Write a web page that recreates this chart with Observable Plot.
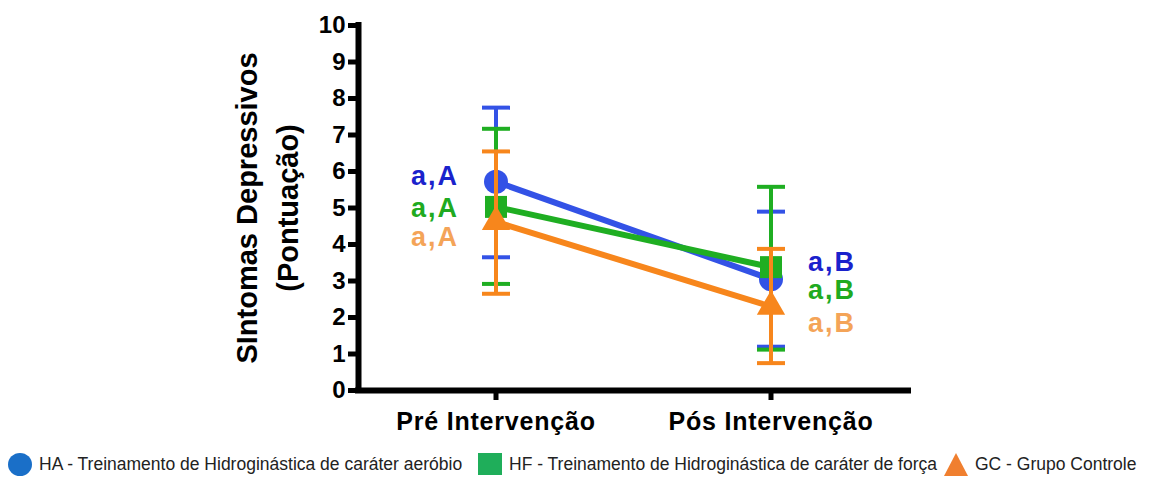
<!DOCTYPE html>
<html>
<head>
<meta charset="utf-8">
<script src="https://cdn.jsdelivr.net/npm/d3@7"></script>
<script src="https://cdn.jsdelivr.net/npm/@observablehq/plot@0.6"></script>
<style>
  html, body { margin: 0; padding: 0; background: #fff; }
  #wrap { position: relative; width: 1155px; height: 479px; overflow: hidden; font-family: "Liberation Sans", Arial, sans-serif; }
  #chart { position: absolute; left: 0; top: 0; }
  .leg { position: absolute; top: 452px; height: 24px; font-size: 17.5px; color: #222; display: flex; align-items: center; white-space: nowrap; }
  .leg svg { margin-right: 7px; flex: none; }
</style>
</head>
<body>
<div id="wrap">
  <div id="chart"></div>
  <div id="legend"></div>
</div>
<script>
const categories = ["Pré Intervenção", "Pós Intervenção"];
const groups = ["HA", "HF", "GC"];
const groupNames = [
  "HA - Treinamento de Hidroginástica de caráter aeróbio",
  "HF - Treinamento de Hidroginástica de caráter de força",
  "GC - Grupo Controle"
];
const haMean = [5.72, 3.05];
const haLow  = [3.65, 1.20];
const haHigh = [7.75, 4.90];
const hfMean = [5.03, 3.38];
const hfLow  = [2.92, 1.12];
const hfHigh = [7.17, 5.58];
const gcMean = [4.62, 2.30];
const gcLow  = [2.65, 0.75];
const gcHigh = [6.55, 3.88];
const letters = [["a,A", "a,B"], ["a,A", "a,B"], ["a,A", "a,B"]];
const letterY = [[5.87, 3.5], [5.0, 2.73], [4.2, 1.83]];
const yTicks = [0, 1, 2, 3, 4, 5, 6, 7, 8, 9, 10];
const yTitle = ["SIntomas Depressivos", "(Pontuação)"];

const lineColors = {HA: "#3352e6", HF: "#1fae22", GC: "#f7861c"};
const letterColors = {HA: "#1a22cc", HF: "#20aa20", GC: "#f4a458"};
const legendColors = {HA: "#1a6fc8", HF: "#1fae5a", GC: "#f07f2f"};
const symbols = {HA: "circle", HF: "square", GC: "triangle"};
const symR = {HA: 12, HF: 12.4, GC: 10.5};

const means = [haMean, hfMean, gcMean], lows = [haLow, hfLow, gcLow], highs = [haHigh, hfHigh, gcHigh];
const rows = [];
groups.forEach((g, gi) => categories.forEach((c, ci) => rows.push({
  group: g, xi: ci, mean: means[gi][ci], low: lows[gi][ci], high: highs[gi][ci],
  label: letters[gi][ci], ly: letterY[gi][ci]
})));

const cap = { draw(ctx) { ctx.moveTo(-14, 0); ctx.lineTo(14, 0); } };

const marks = [];
marks.push(Plot.line(rows, {x: "xi", y: "mean", z: "group", stroke: d => lineColors[d.group], strokeWidth: 6}));
groups.forEach(g => {
  const sub = rows.filter(d => d.group === g);
  marks.push(Plot.dot(sub, {x: "xi", y: "mean", symbol: () => symbols[g], r: symR[g], fill: lineColors[g], stroke: "none"}));
  marks.push(Plot.ruleX(sub, {x: "xi", y1: "low", y2: "high", stroke: lineColors[g], strokeWidth: 4}));
  marks.push(Plot.dot(sub, {x: "xi", y: "low", symbol: cap, r: 5, stroke: lineColors[g], strokeWidth: 4, fill: "none"}));
  marks.push(Plot.dot(sub, {x: "xi", y: "high", symbol: cap, r: 5, stroke: lineColors[g], strokeWidth: 4, fill: "none"}));
});
groups.forEach(g => {
  const pre = rows.filter(d => d.group === g && d.xi === 0);
  const post = rows.filter(d => d.group === g && d.xi === 1);
  marks.push(Plot.text(pre, {x: "xi", y: "ly", text: "label", fill: letterColors[g], fontSize: 27, fontWeight: "bold", dx: -61}));
  marks.push(Plot.text(post, {x: "xi", y: "ly", text: "label", fill: letterColors[g], fontSize: 27, fontWeight: "bold", dx: 61}));
});

const plot = Plot.plot({
  width: 1155, height: 445,
  marginLeft: 358, marginRight: 247, marginTop: 25, marginBottom: 55,
  style: {fontFamily: "'Liberation Sans', Arial, sans-serif", color: "#000", background: "#fff"},
  x: {domain: [-0.5, 1.5], axis: null},
  y: {domain: [0, 10], axis: null},
  marks: [
    Plot.ruleX([-0.5], {y1: 0, y2: 10, strokeWidth: 6, strokeLinecap: "square"}),
    Plot.ruleY([0], {x1: -0.5, x2: 1.5, strokeWidth: 6, strokeLinecap: "square"}),
    Plot.axisY(yTicks, {tickSize: 10, strokeWidth: 5, tickPadding: 3, fontSize: 24, fontWeight: "bold", label: null, tickFormat: d => String(d)}),
    Plot.axisX([0, 1], {tickSize: 10, strokeWidth: 5, tickPadding: 12, fontSize: 25, fontWeight: "bold", label: null, tickFormat: i => categories[i]}),
    Plot.text([yTitle[0]], {frameAnchor: "left", textAnchor: "middle", rotate: -90, dx: -111, fontSize: 29, fontWeight: "bold"}),
    Plot.text([yTitle[1]], {frameAnchor: "left", textAnchor: "middle", rotate: -90, dx: -70, fontSize: 29, fontWeight: "bold"}),
    ...marks
  ]
});
document.getElementById("chart").appendChild(plot);
d3.select(plot).selectAll("text")
  .filter(function() { return /^a,[AB]$/.test(this.textContent); })
  .attr("letter-spacing", "2px");
d3.select(plot).selectAll("text")
  .filter(function() { return categories.includes(this.textContent); })
  .attr("letter-spacing", "0.8px");

const legend = document.getElementById("legend");
const legX = [8, 478, 944];
groups.forEach((g, i) => {
  const div = document.createElement("div");
  div.className = "leg";
  div.style.left = legX[i] + "px";
  let shape;
  if (g === "HA") shape = `<svg width="24" height="23"><ellipse cx="12" cy="11.5" rx="12" ry="11.5" fill="${legendColors[g]}"/></svg>`;
  else if (g === "HF") shape = `<svg width="24" height="22"><rect x="0" y="0" width="24" height="22" fill="${legendColors[g]}"/></svg>`;
  else shape = `<svg width="24" height="23"><polygon points="12,0 24,23 0,23" fill="${legendColors[g]}"/></svg>`;
  div.innerHTML = shape + `<span>${groupNames[i]}</span>`;
  legend.appendChild(div);
});
</script>
</body>
</html>
